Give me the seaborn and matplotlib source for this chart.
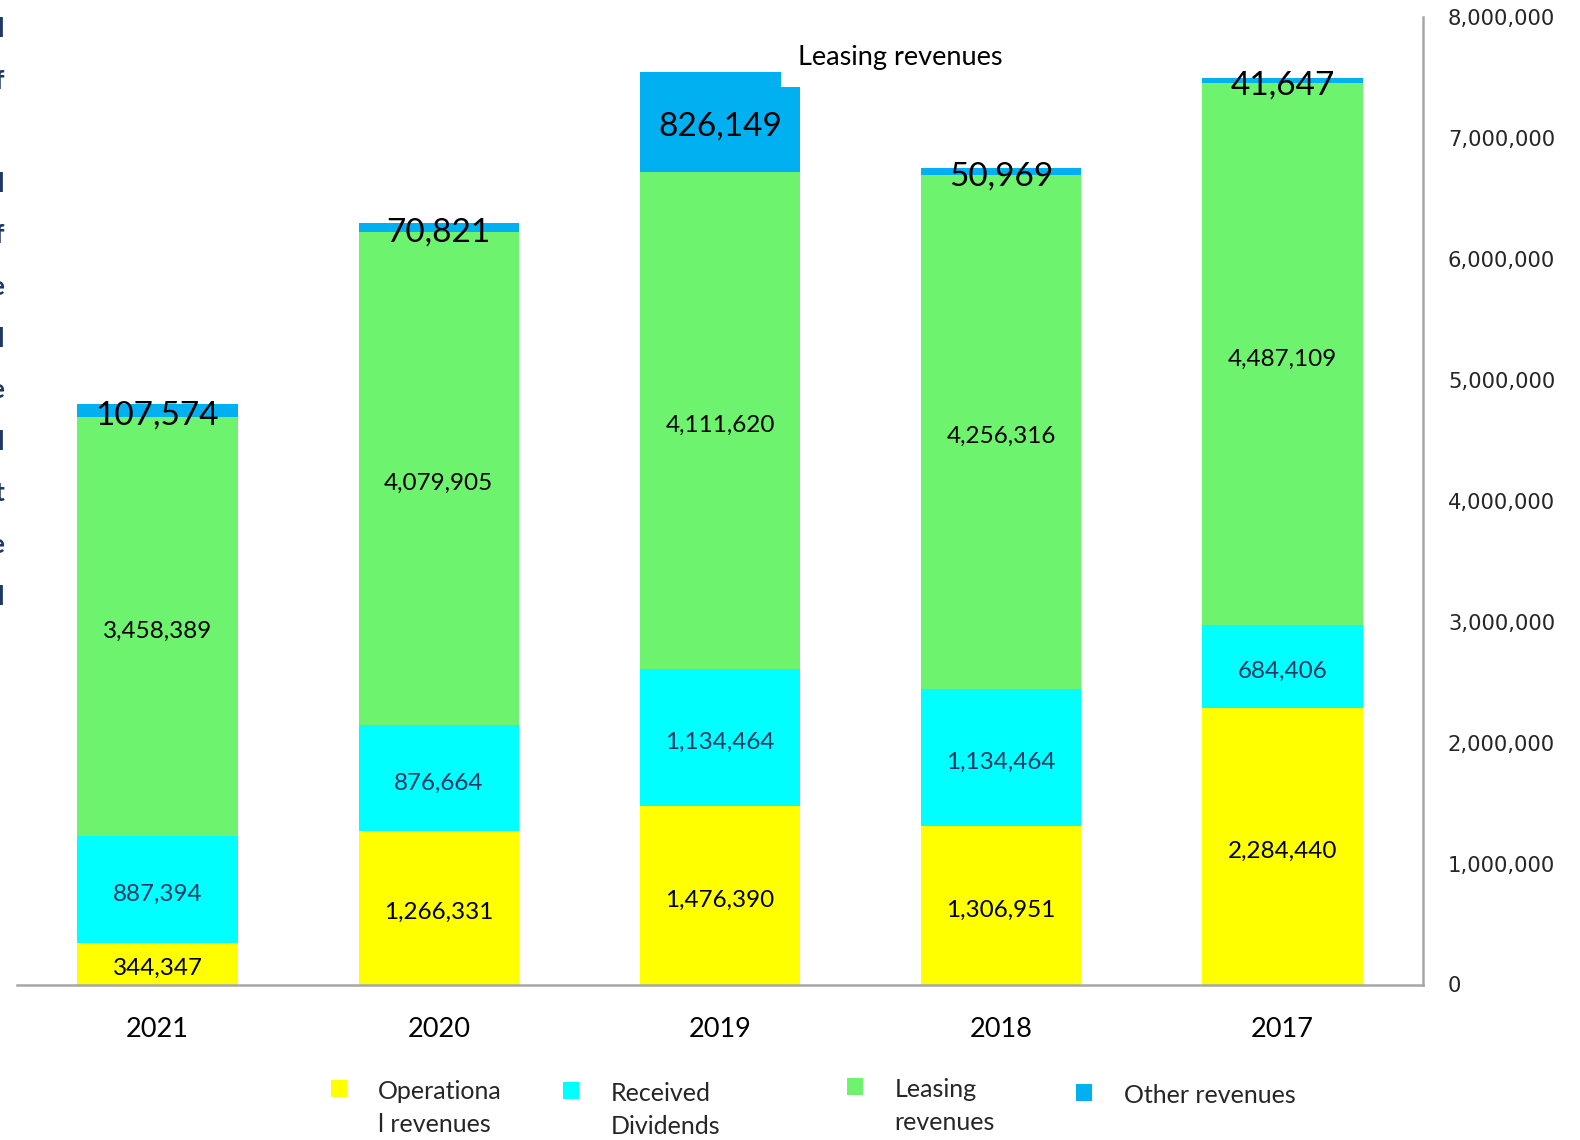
import matplotlib
matplotlib.use("Agg")
import matplotlib.pyplot as plt
from matplotlib.patches import Patch
from matplotlib.ticker import FuncFormatter, MultipleLocator
from matplotlib.transforms import offset_copy
import pandas as pd
import seaborn as sns

# Revenue breakdown per year (stacked from bottom to top)
years = ["2021", "2020", "2019", "2018", "2017"]
operational = [344347, 1266331, 1476390, 1306951, 2284440]
dividends = [887394, 876664, 1134464, 1134464, 684406]
leasing = [3458389, 4079905, 4111620, 4256316, 4487109]
other = [107574, 70821, 826149, 50969, 41647]

series_keys = ["operational", "dividends", "leasing", "other"]
series_names = ["Operationa\nl revenues", "Received\nDividends", "Leasing\nrevenues", "Other revenues"]
series_colors = ["#FFFF00", "#00FFFF", "#6EF36E", "#00B0F0"]
value_colors = ["#000000", "#1F3864", "#000000", "#000000"]
value_sizes = [17.5, 17.5, 17.5, 24]

sns.set_style("white")
plt.rcParams["font.family"] = ["Lato", "DejaVu Sans"]

df = pd.DataFrame({"year": years, "operational": operational, "dividends": dividends,
                   "leasing": leasing, "other": other})
tops = df[series_keys].cumsum(axis=1)
bottoms = tops - df[series_keys]

W, H = 1580, 1140
fig = plt.figure(figsize=(W / 100, H / 100), dpi=100)
ax = fig.add_axes([17 / W, 155.5 / H, (1423 - 17) / W, (1122.9 - 155.5) / H])

# stacked bars: draw cumulative totals from the top series down
for key, color in reversed(list(zip(series_keys, series_colors))):
    sns.barplot(x=df["year"], y=tops[key], order=years, color=color, saturation=1,
                width=0.57, errorbar=None, linewidth=0, ax=ax, zorder=2)

# value labels centred in each segment (nudged slightly down)
label_tf = offset_copy(ax.transData, fig=fig, x=0, y=-3.4, units="points")
for j, key in enumerate(series_keys):
    for i in range(len(years)):
        v = df.loc[i, key]
        ax.text(i, bottoms.loc[i, key] + v / 2, f"{v:,}", ha="center", va="center",
                color=value_colors[j], fontsize=value_sizes[j], zorder=5,
                transform=label_tf)

ax.text(2.64, 7.67e6, "Leasing revenues", ha="center", va="center", fontsize=19.5,
        color="#000000", zorder=6,
        bbox=dict(boxstyle="square,pad=0.63", facecolor="white", edgecolor="none"))

ax.set_xlim(-0.5, 4.5)
ax.set_ylim(0, 8e6)
ax.set_xlabel("")
ax.set_ylabel("")
ax.yaxis.set_major_locator(MultipleLocator(1e6))
ax.yaxis.set_major_formatter(FuncFormatter(lambda v, p: f"{v:,.0f}"))
ax.yaxis.tick_right()
ax.tick_params(axis="y", length=0, pad=18, labelsize=15.2, labelcolor="#262626",
               labelfontfamily="DejaVu Sans")
ax.tick_params(axis="x", length=0, pad=23.5, labelsize=19.5, labelcolor="#000000")

for s in ["top", "left"]:
    ax.spines[s].set_visible(False)
for s in ["right", "bottom"]:
    ax.spines[s].set_color("#A6A6A6")
    ax.spines[s].set_linewidth(1.8)

# one legend entry per series, placed individually along the bottom
legend_x = [330.5, 563, 847, 1076]
legend_y = [1080, 1082, 1078, 1084]
for j in range(4):
    leg = fig.legend(handles=[Patch(facecolor=series_colors[j], edgecolor="none")],
                     labels=[series_names[j]], loc="upper left",
                     bbox_to_anchor=(legend_x[j] / W, 1 - legend_y[j] / H), frameon=False,
                     fontsize=18, handlelength=0.65, handleheight=0.65,
                     handletextpad=1.25, borderpad=0, borderaxespad=0)
    for t in leg.get_texts():
        t.set_linespacing(1.5)
    for col_box in leg._legend_handle_box.get_children():
        for item in col_box.get_children():
            item.align = "top"

# clipped text column at the left edge
fig.text(4 / W, 1 - 17 / H, "l\nf\n\nl\nf\ne\nl\ne\nl\nt\ne\nl", ha="right", va="top",
         fontsize=19, fontweight="bold", color="#1F3864", linespacing=2.38)

fig.savefig("out.png", dpi=100, facecolor="white")
